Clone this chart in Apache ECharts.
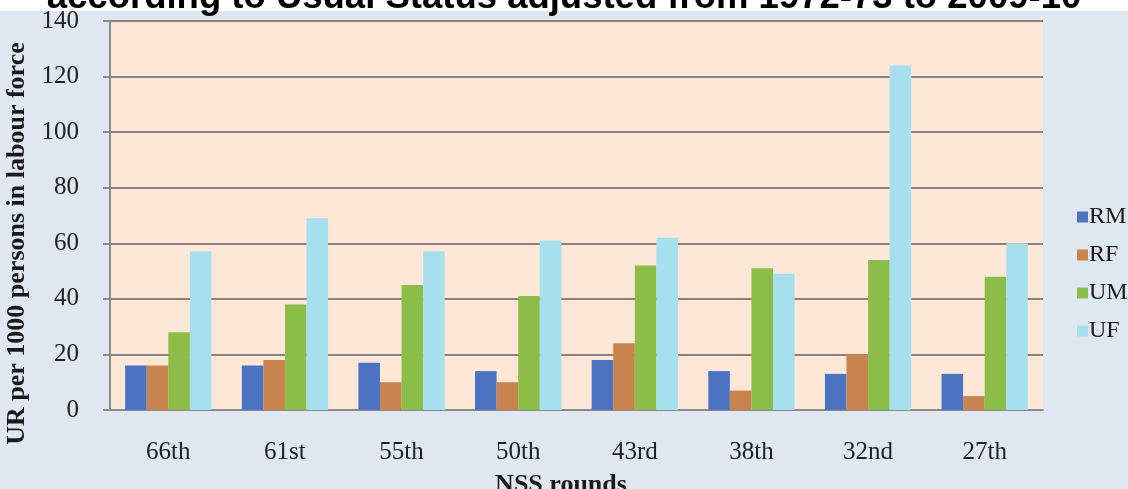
<!DOCTYPE html>
<html>
<head>
<meta charset="utf-8">
<script src="https://cdn.jsdelivr.net/npm/echarts@6/dist/echarts.min.js"></script>
<style>
  html, body { margin: 0; padding: 0; background: #dfe7f1; }
  #chart { width: 1128px; height: 489px; }
</style>
</head>
<body>
<div id="chart"></div>
<script>
  // NSS rounds, unemployment rate per 1000 persons
  var rounds = ['66th', '61st', '55th', '50th', '43rd', '38th', '32nd', '27th'];
  var RM = [16, 16, 17, 14, 18, 14, 13, 13];
  var RF = [16, 18, 10, 10, 24, 7, 20, 5];
  var UM = [28, 38, 45, 41, 52, 51, 54, 48];
  var UF = [57, 69, 57, 61, 62, 49, 124, 60];
  var yTicks = [0, 20, 40, 60, 80, 100, 120, 140];

  var chart = echarts.init(document.getElementById('chart'));

  function bar(name, data, color) {
    return {
      name: name,
      type: 'bar',
      data: data,
      barGap: '0%',
      barCategoryGap: '26%',
      itemStyle: { color: color },
      silent: true
    };
  }

  var serif = '"Liberation Serif", "DejaVu Serif", serif';

  chart.setOption({
    backgroundColor: '#dfe7f1',
    animation: false,
    graphic: [{
      type: 'rect',
      z: -1,
      shape: { x: 0, y: 0, width: 1128, height: 11 },
      style: { fill: '#ffffff' }
    }],
    title: {
      text: 'according to Usual Status adjusted from 1972-73 to 2009-10',
      left: 'center',
      top: -26,
      textStyle: {
        fontFamily: '"Liberation Sans", Arial, sans-serif',
        fontWeight: 'bold',
        fontSize: 36.5,
        color: '#000'
      }
    },
    legend: {
      orient: 'vertical',
      left: 1072,
      top: 200,
      itemWidth: 11,
      itemHeight: 11,
      itemGap: 14,
      icon: 'rect',
      textStyle: { fontFamily: serif, fontSize: 24, color: '#1a1a1a', padding: [0, 0, 0, -4] },
      data: ['RM', 'RF', 'UM', 'UF']
    },
    grid: {
      left: 110,
      right: 85,
      top: 21,
      bottom: 79,
      outerBoundsMode: 'none',
      containLabel: false,
      show: true,
      backgroundColor: '#fde8d8',
      borderWidth: 0
    },
    xAxis: {
      type: 'category',
      data: rounds,
      name: 'NSS rounds',
      nameLocation: 'middle',
      nameGap: 62,
      nameTextStyle: { fontFamily: serif, fontSize: 26, fontWeight: 'bold', color: '#1a1a1a', padding: [0, 31, 0, 0] },
      axisLine: { lineStyle: { color: '#8a8a8a', width: 2 } },
      axisTick: { length: 6, lineStyle: { color: '#8a8a8a', width: 2 } },
      axisLabel: { fontFamily: serif, fontSize: 25, color: '#222', margin: 30 }
    },
    yAxis: {
      type: 'value',
      min: yTicks[0],
      max: yTicks[yTicks.length - 1],
      interval: 20,
      name: 'UR per 1000 persons in labour force',
      nameLocation: 'middle',
      nameGap: 68,
      nameTextStyle: { fontFamily: serif, fontSize: 26, fontWeight: 'bold', color: '#1a1a1a', padding: [0, 56, 0, 0] },
      axisLine: { show: true, lineStyle: { color: '#8a8a8a', width: 2 } },
      axisTick: { show: true, length: 7, lineStyle: { color: '#8a8a8a', width: 2 } },
      axisLabel: { fontFamily: serif, fontSize: 25, color: '#222', margin: 31 },
      splitLine: { lineStyle: { color: '#8c817c', width: 2 } }
    },
    series: [
      bar('RM', RM, '#4b73c2'),
      bar('RF', RF, '#c8844f'),
      bar('UM', UM, '#8cbd48'),
      bar('UF', UF, '#a6e0ee')
    ]
  });
</script>
</body>
</html>
